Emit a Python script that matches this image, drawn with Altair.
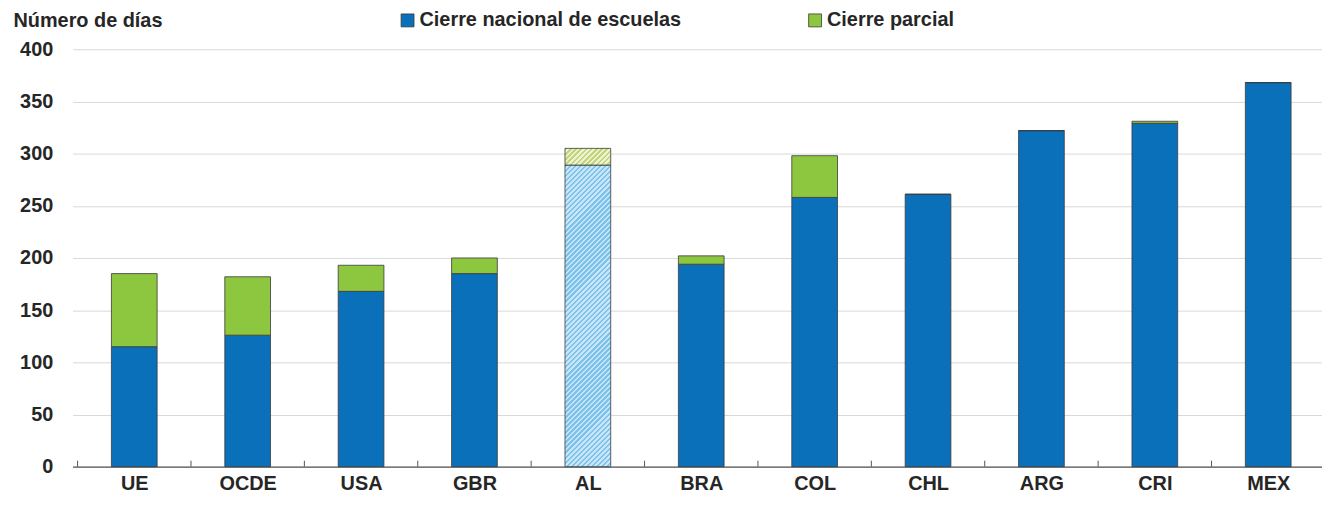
import altair as alt
import pandas as pd

cats = ["UE", "OCDE", "USA", "GBR", "AL", "BRA", "COL", "CHL", "ARG", "CRI", "MEX"]
nacional = [115, 126, 168, 185, 289, 194, 258, 261, 322, 329, 368]
parcial = [70, 56, 25, 15, 16, 8, 40, 0, 0, 2, 0]
series = ["Cierre nacional de escuelas", "Cierre parcial"]
colors = ["#0a70b9", "#8dc63f"]
hatched = "AL"

FONT = "Liberation Sans, Arial"
TXT = "#262626"
W, H = 1257, 420
STEP = 115
BAR = 46
PXU = H / 400

rows = []
for i, (c, n, p) in enumerate(zip(cats, nacional, parcial)):
    if c == hatched:
        continue
    rows.append({"idx": i, "pais": c, "serie": series[0], "valor": n, "ord": 0})
    rows.append({"idx": i, "pais": c, "serie": series[1], "valor": p, "ord": 1})
df = pd.DataFrame(rows)

i_al = cats.index(hatched)
al_n, al_p = nacional[i_al], parcial[i_al]
df_al_n = pd.DataFrame([{"idx": i_al, "y0": 0, "y1": al_n}])
df_al_p = pd.DataFrame([{"idx": i_al, "y0": al_n, "y1": al_n + al_p}])
df_bounds = pd.DataFrame({"b": [i - 0.5 for i in range(len(cats))]})


def stripes(w, h, c1, c2, period=3.6):
    r = w / h
    k = (r + 1) / (r * r + 1)
    length = (w + h) / 2 ** 0.5
    n = max(1, int(round(length / period)))
    stops = []
    for i in range(n):
        a, m, b = i / n, (i + 0.5) / n, (i + 1) / n
        stops += [{"offset": a, "color": c1}, {"offset": m, "color": c1},
                  {"offset": m, "color": c2}, {"offset": b, "color": c2}]
    return {"gradient": "linear", "x1": 0, "y1": 0, "x2": k * r, "y2": k, "stops": stops}


grad_blue = stripes(BAR, al_n * PXU, "#7cc2ec", "#c6e5f7")
grad_green = stripes(BAR, al_p * PXU, "#c2d47e", "#edf2cf")

xdom = [-0.5, -0.5 + W / STEP]
label_expr = "[" + ",".join("'%s'" % c for c in cats) + "][datum.value]"
xscale = alt.Scale(domain=xdom, nice=False, zero=False)
xenc = alt.X("idx:Q", scale=xscale,
             axis=alt.Axis(title=None, values=list(range(len(cats))), labelExpr=label_expr,
                           grid=False, ticks=False, labelFontSize=20, labelAngle=0,
                           labelFontWeight="bold", labelColor=TXT, labelFont=FONT,
                           labelBaseline="alphabetic", labelPadding=23,
                           labelFlush=False, labelOverlap=False,
                           domainColor="#555555", domainWidth=1.2))

bars = alt.Chart(df).mark_bar(size=BAR, stroke="#3a3a3a", strokeWidth=0.8).encode(
    x=xenc,
    y=alt.Y("sum(valor):Q", scale=alt.Scale(domain=[0, 400]),
            axis=alt.Axis(values=list(range(0, 401, 50)), title="Número de días",
                          titleAngle=0, titleAlign="left", titleX=-60, titleY=-23,
                          titleBaseline="alphabetic", titleFontSize=20, titleFont=FONT,
                          titleFontWeight="bold", titleColor=TXT,
                          labelFontSize=20, labelFont=FONT, labelFontWeight="bold",
                          labelColor=TXT, labelPadding=20, ticks=False, domain=False,
                          gridColor="#d9d9d9", gridWidth=1)),
    color=alt.Color("serie:N", scale=alt.Scale(domain=series, range=colors),
                    legend=alt.Legend(title=None, orient="none", direction="horizontal",
                                      legendX=327, legendY=-39, symbolType="square",
                                      symbolSize=169, symbolStrokeColor="#3a3a3a",
                                      symbolStrokeWidth=0.8, labelFontSize=20,
                                      labelFont=FONT, labelFontWeight="bold",
                                      labelColor=TXT, labelOffset=2, labelLimit=500,
                                      columnPadding=124, padding=0)),
    order=alt.Order("ord:Q"),
)

al_n_layer = alt.Chart(df_al_n).mark_bar(size=BAR, stroke="#3a3a3a", strokeWidth=0.8,
                                        fill=grad_blue).encode(
    x="idx:Q", y="y0:Q", y2="y1:Q")
al_p_layer = alt.Chart(df_al_p).mark_bar(size=BAR, stroke="#3a3a3a", strokeWidth=0.8,
                                        fill=grad_green).encode(
    x="idx:Q", y="y0:Q", y2="y1:Q")

ticks = alt.Chart(df_bounds).mark_rule(color="#555555", strokeWidth=1).encode(
    x="b:Q", y=alt.value(H - 6), y2=alt.value(H))

chart = alt.layer(bars, al_n_layer, al_p_layer, ticks).properties(
    width=W, height=H,
    autosize=alt.AutoSizeParams(type="none"),
    padding={"left": 65, "top": 40, "right": 0, "bottom": 25},
    background="white",
).configure_view(stroke=None)

chart.save("out.html", embed_options={"renderer": "svg", "actions": False})
